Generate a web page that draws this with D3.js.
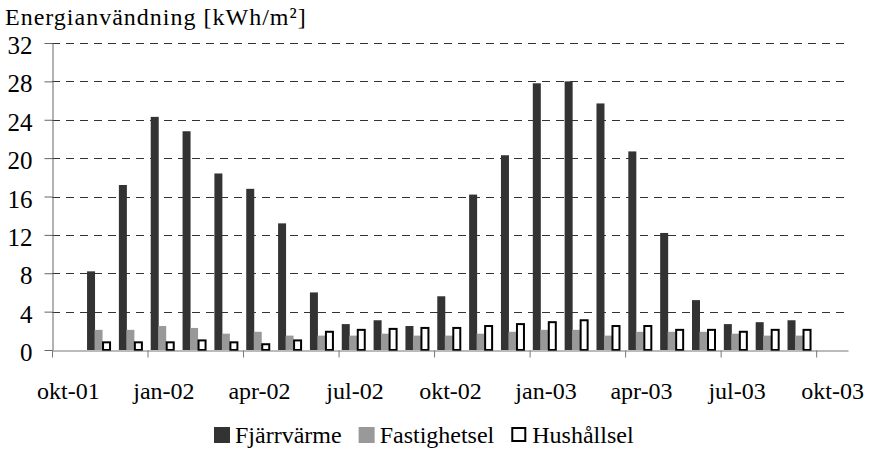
<!DOCTYPE html>
<html><head><meta charset="utf-8">
<script src="https://cdn.jsdelivr.net/npm/d3@7"></script>
<style>
html,body{margin:0;padding:0;background:#fff;}
svg{display:block;}
svg text{font-family:"Liberation Serif","Times New Roman",Times,"DejaVu Serif",serif !important;}
</style></head>
<body>
<svg id="chart" width="871" height="449"></svg>
<script>
// ---- data ----
const months = ["okt-01","nov-01","dec-01","jan-02","feb-02","mar-02","apr-02","maj-02","jun-02","jul-02","aug-02","sep-02",
                "okt-02","nov-02","dec-02","jan-03","feb-03","mar-03","apr-03","maj-03","jun-03","jul-03","aug-03","sep-03","okt-03"];
const dataMonths = months.slice(1, 24); // nov-01 .. sep-03
const fjarrvarme   = [8.2,17.2,24.3,22.8,18.4,16.8,13.2,6.0,2.7,3.1,2.5,5.6,16.2,20.3,27.8,28.0,25.7,20.7,12.2,5.2,2.7,2.9,3.1];
const fastighetsel = [2.1,2.1,2.5,2.3,1.7,1.9,1.5,1.5,1.5,1.7,1.5,1.5,1.7,1.9,2.1,2.1,1.5,1.9,1.9,1.9,1.7,1.5,1.5];
const hushallsel   = [0.8,0.8,0.8,1.0,0.8,0.6,1.0,1.9,2.1,2.2,2.3,2.3,2.5,2.7,2.9,3.1,2.5,2.5,2.1,2.1,1.9,2.1,2.1];
const seriesNames = ["Fjärrvärme","Fastighetsel","Hushållsel"];
const xTickLabels = ["okt-01","jan-02","apr-02","jul-02","okt-02","jan-03","apr-03","jul-03","okt-03"];
const yTicks = [0,4,8,12,16,20,24,28,32];
const yTitle = "Energianvändning [kWh/m²]";

const colors = {"Fjärrvärme":"#333333","Fastighetsel":"#999999","Hushållsel":"#ffffff"};

const svg = d3.select("#chart");
const mLeft = 52, mRight = 848, mTop = 43, mBottom = 350;

const x = d3.scaleLinear().domain([0, months.length]).range([mLeft, mRight]);
const mw = x(1) - x(0);
const y = d3.scaleLinear().domain([0, 32]).range([mBottom, mTop]);
const sub = d3.scaleBand().domain(seriesNames).range([3.2, 3.2 + 7.5*3]);

// title
svg.append("text").attr("x", 5).attr("y", 25)
  .attr("font-size", 24).attr("letter-spacing", 1).attr("fill", "#000").text(yTitle);

// gridlines
svg.append("g").selectAll("line").data(yTicks.filter(d => d > 0)).join("line")
  .attr("x1", mLeft).attr("x2", mRight)
  .attr("y1", d => Math.round(y(d)) + 0.5).attr("y2", d => Math.round(y(d)) + 0.5)
  .attr("stroke", "#333").attr("stroke-width", 1).attr("stroke-dasharray", "8,6");

// bars
const seriesData = [fjarrvarme, fastighetsel, hushallsel];
seriesNames.forEach((name, si) => {
  const vals = seriesData[si];
  const g = svg.append("g");
  const idx = dataMonths.map((m, i) => ({m, v: vals[i], k: months.indexOf(m)}));
  if (name === "Hushållsel") {
    g.selectAll("rect").data(idx).join("rect")
      .attr("x", d => x(d.k) + sub(name) + 1)
      .attr("width", 7)
      .attr("y", d => y(d.v))
      .attr("height", d => mBottom - y(d.v))
      .attr("fill", "#fff").attr("stroke", "#000").attr("stroke-width", 2);
  } else {
    g.selectAll("rect").data(idx).join("rect")
      .attr("x", d => x(d.k) + sub(name))
      .attr("width", 8)
      .attr("y", d => y(d.v))
      .attr("height", d => mBottom - y(d.v))
      .attr("fill", colors[name]);
  }
});

// y axis
const yAxis = d3.axisLeft(y).tickValues(yTicks).tickSize(8).tickSizeOuter(0).tickPadding(12);
const gy = svg.append("g").attr("transform", `translate(${mLeft + 0.5},0)`).call(yAxis);
gy.select(".domain").attr("stroke", "#666");
gy.selectAll(".tick line").attr("stroke", "#666");
gy.selectAll("text").attr("font-size", 25).attr("fill", "#000").attr("dy", "0.42em");

// x axis
const xTickIdx = xTickLabels.map(l => months.indexOf(l));
const xAxis = d3.axisBottom(x).tickValues(xTickIdx).tickSize(7).tickSizeOuter(0)
  .tickFormat(d => months[d]).tickPadding(24);
const gx = svg.append("g").attr("transform", `translate(0,${mBottom + 0.5})`).call(xAxis);
gx.select(".domain").attr("stroke", "#777");
gx.selectAll(".tick line").attr("stroke", "#777");
gx.selectAll("text").attr("font-size", 24).attr("fill", "#000").attr("x", mw / 2);

// legend
const leg = svg.append("g").attr("font-size", 24).attr("fill", "#000");
let lx = 214;
const ly = 443;
seriesNames.forEach(name => {
  if (name === "Hushållsel") {
    leg.append("rect").attr("x", lx + 1).attr("y", ly - 15).attr("width", 13).attr("height", 13)
      .attr("fill", "#fff").attr("stroke", "#000").attr("stroke-width", 2);
  } else {
    leg.append("rect").attr("x", lx).attr("y", ly - 16).attr("width", 16).attr("height", 16)
      .attr("fill", colors[name]);
  }
  const t = leg.append("text").attr("x", lx + 21).attr("y", ly).text(name);
  lx += 21 + t.node().getComputedTextLength() + 17;
});
</script>
</body></html>
